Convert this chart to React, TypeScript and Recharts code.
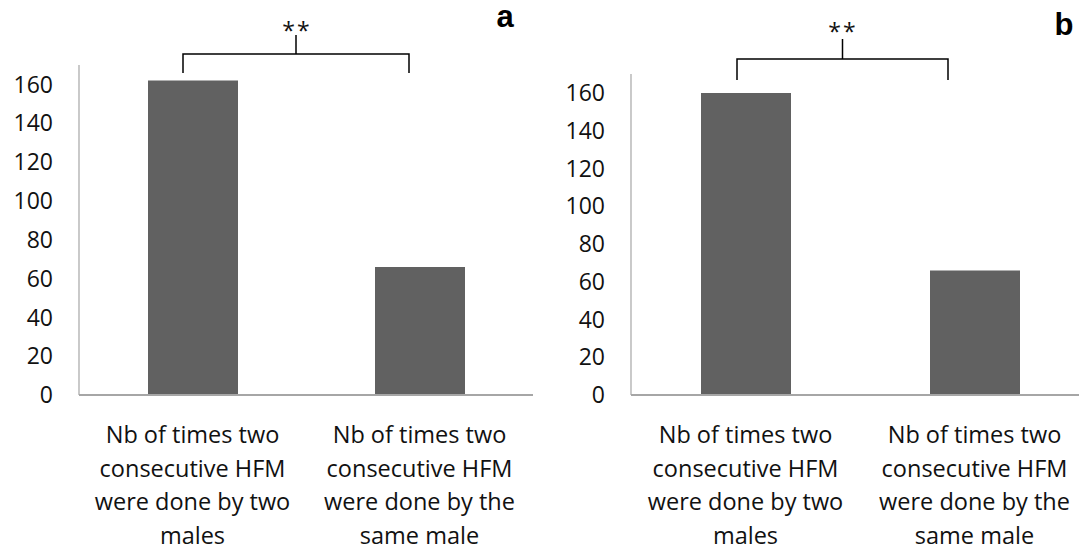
import { BarChart, Bar, XAxis, YAxis } from "recharts";

const categories = [
  "Nb of times two\nconsecutive HFM\nwere done by two\nmales",
  "Nb of times two\nconsecutive HFM\nwere done by the\nsame male",
];
const valuesA = [162, 66];
const valuesB = [160, 66];
const yTicks = [0, 20, 40, 60, 80, 100, 120, 140, 160];
const panelLabels = ["a", "b"];
const signif = "**";

const FONT = "'Open Sans', sans-serif";
const BAR = "#616161";
const AXIS = "#a6a6a6";

function CategoryTick(props: any) {
  const { x, y, payload } = props;
  const lines = String(payload.value).split("\n");
  return (
    <text
      x={x}
      y={y}
      textAnchor="middle"
      fontFamily={FONT}
      fontSize={23.5}
      fill="#111"
    >
      {lines.map((l, i) => (
        <tspan key={i} x={x} y={y + 39 + i * 33.5} dominantBaseline="central">
          {l}
        </tspan>
      ))}
    </text>
  );
}

type PanelProps = {
  values: number[];
  width: number;
  yAxisWidth: number;
  top: number;
  right: number;
};

function Panel({ values, width, yAxisWidth, top, right }: PanelProps) {
  const data = categories.map((c, i) => ({ name: c, value: values[i] }));
  return (
    <BarChart
      width={width}
      height={550}
      data={data}
      margin={{ top, right, left: 0, bottom: 0 }}
    >
      <XAxis
        dataKey="name"
        height={155}
        tickLine={false}
        tickSize={0}
        tickMargin={0}
        interval={0}
        axisLine={{ stroke: AXIS, strokeWidth: 2 }}
        tick={<CategoryTick />}
      />
      <YAxis
        width={yAxisWidth}
        domain={[0, 170]}
        ticks={yTicks}
        interval={0}
        tickLine={false}
        tickSize={0}
        tickMargin={26}
        axisLine={{ stroke: AXIS, strokeWidth: 1.2 }}
        tick={{ fontSize: 23, fill: "#111", fontFamily: FONT }}
      />
      <Bar dataKey="value" fill={BAR} barSize={90} isAnimationActive={false} />
    </BarChart>
  );
}

function Bracket({ x1, x2, y, drop, rise }: { x1: number; x2: number; y: number; drop: number; rise: number }) {
  const cx = (x1 + x2) / 2;
  return (
    <g stroke="#000" strokeWidth={1.5} fill="none">
      <path d={`M${x1},${y + drop} V${y} H${x2} V${y + drop}`} />
      <path d={`M${cx},${y} V${y - rise}`} />
    </g>
  );
}

export default function App() {
  return (
    <div
      style={{
        position: "absolute",
        left: 0,
        top: 0,
        width: 1079,
        height: 550,
        overflow: "hidden",
        background: "#fff",
      }}
    >
      <div style={{ position: "absolute", left: 0, top: 0 }}>
        <Panel values={valuesA} width={540} yAxisWidth={79} top={65} right={7} />
      </div>
      <div style={{ position: "absolute", left: 540, top: 0 }}>
        <Panel values={valuesB} width={549} yAxisWidth={91} top={74} right={0} />
      </div>
      <svg
        width={1079}
        height={550}
        style={{ position: "absolute", left: 0, top: 0, pointerEvents: "none" }}
      >
        <Bracket x1={183} x2={409} y={54} drop={19} rise={19} />
        <Bracket x1={737} x2={948} y={59} drop={21} rise={20} />
        <text x={297} y={30} textAnchor="middle" dominantBaseline="central" fontFamily={FONT} fontSize={23} letterSpacing={2} fill="#111">
          {signif}
        </text>
        <text x={843} y={31} textAnchor="middle" dominantBaseline="central" fontFamily={FONT} fontSize={23} letterSpacing={2} fill="#111">
          {signif}
        </text>
        <text x={505} y={27} textAnchor="middle" fontFamily="'Liberation Sans', Arial, sans-serif" fontWeight="bold" fontSize={31} fill="#000">
          {panelLabels[0]}
        </text>
        <text x={1064} y={35} textAnchor="middle" fontFamily="'Liberation Sans', Arial, sans-serif" fontWeight="bold" fontSize={31} fill="#000">
          {panelLabels[1]}
        </text>
      </svg>
    </div>
  );
}
